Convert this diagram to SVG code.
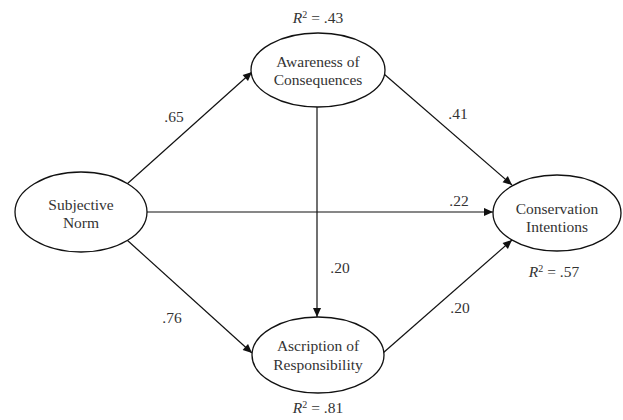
<svg xmlns="http://www.w3.org/2000/svg" width="623" height="420" viewBox="0 0 623 420">
<defs>
<marker id="arr" viewBox="0 0 10 10" refX="10" refY="5" markerWidth="10" markerHeight="9" markerUnits="userSpaceOnUse" orient="auto">
<path d="M0,0.5 L10,5 L0,9.5 z" fill="#111"/>
</marker>
</defs>
<style>
.node ellipse{fill:#fff;stroke:#111;stroke-width:1.3}
text{fill:#333;text-anchor:middle;font-family:"Liberation Serif","Times New Roman","DejaVu Serif",serif;font-size:15.5px}
.edges line{stroke:#111;stroke-width:1.2;marker-end:url(#arr)}
</style>
<rect width="623" height="420" fill="#fff"/>
<g class="edges" id="connectors">
<line x1="127" y1="184" x2="252" y2="72"/>
<line x1="384" y1="74" x2="512" y2="185"/>
<line x1="147" y1="212" x2="493" y2="212"/>
<line x1="317" y1="107" x2="317" y2="317"/>
<line x1="127" y1="240" x2="252" y2="353"/>
<line x1="383" y1="353" x2="512" y2="240"/>
</g>
<g id="edge-labels">
<text x="174" y="122">.65</text>
<text x="458" y="119">.41</text>
<text x="459" y="206">.22</text>
<text x="340" y="273">.20</text>
<text x="172" y="323">.76</text>
<text x="460" y="313">.20</text>
</g>
<g id="aware" class="node">
<ellipse cx="318" cy="70" rx="67" ry="37"/>
<text x="318" y="67">Awareness of</text>
<text x="318" y="85">Consequences</text>
<text x="318" y="23"><tspan font-style="italic">R</tspan><tspan font-size="10" dy="-5">2</tspan><tspan dy="5"> = .43</tspan></text>
</g>
<g id="subj" class="node">
<ellipse cx="81" cy="212" rx="66" ry="40"/>
<text x="81" y="210">Subjective</text>
<text x="81" y="228">Norm</text>
</g>
<g id="cons" class="node">
<ellipse cx="557" cy="213" rx="64" ry="38"/>
<text x="557" y="214">Conservation</text>
<text x="557" y="232">Intentions</text>
<text x="554" y="277"><tspan font-style="italic">R</tspan><tspan font-size="10" dy="-5">2</tspan><tspan dy="5"> = .57</tspan></text>
</g>
<g id="ascr" class="node">
<ellipse cx="318" cy="355" rx="66" ry="38"/>
<text x="318" y="351">Ascription of</text>
<text x="318" y="370">Responsibility</text>
<text x="318" y="413"><tspan font-style="italic">R</tspan><tspan font-size="10" dy="-5">2</tspan><tspan dy="5"> = .81</tspan></text>
</g>
</svg>
